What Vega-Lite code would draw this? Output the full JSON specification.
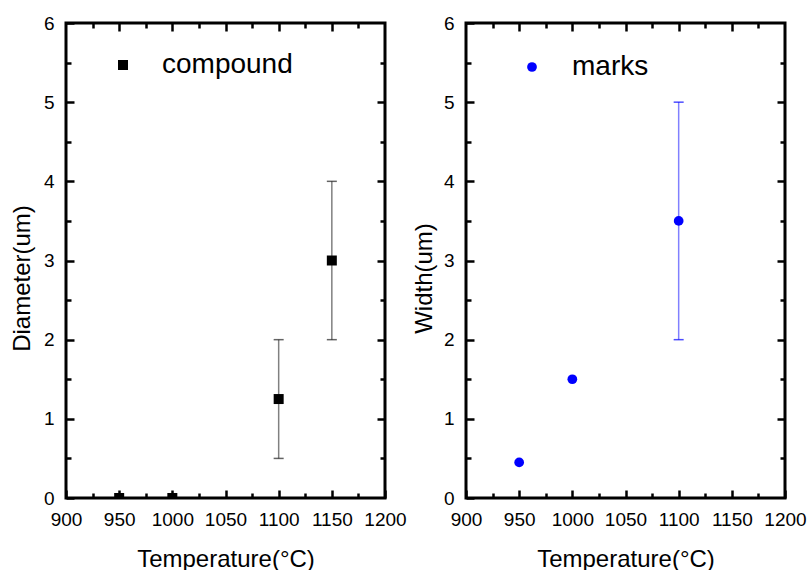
{
  "$schema": "https://vega.github.io/schema/vega-lite/v6.json",
  "padding": {"left": 8, "top": 12, "right": 0, "bottom": 0},
  "background": "white",
  "bounds": "flush",
  "spacing": 81,
  "config": {
    "font": "Liberation Sans",
    "view": {"stroke": "black", "strokeWidth": 3},
    "axis": {
      "domain": false,
      "grid": false,
      "tickColor": "black",
      "tickWidth": 2.5,
      "labelColor": "black",
      "labelFont": "Liberation Sans",
      "labelFontSize": 19,
      "labelFontWeight": "normal",
      "titleColor": "black",
      "titleFont": "Liberation Sans",
      "titleFontSize": 24,
      "titleFontWeight": "normal",
      "labelFlush": false,
      "labelOverlap": false,
      "format": "d"
    },
    "legend": {
      "labelFont": "Liberation Sans",
      "labelFontSize": 28,
      "labelColor": "black",
      "padding": 0
    }
  },
  "datasets": {
    "compound": [
      {"temp": 950, "value": 0, "series": "compound"},
      {"temp": 1000, "value": 0, "series": "compound"},
      {"temp": 1100, "value": 1.25, "lo": 0.5, "hi": 2, "series": "compound"},
      {"temp": 1150, "value": 3, "lo": 2, "hi": 4, "series": "compound"}
    ],
    "marks": [
      {"temp": 950, "value": 0.45, "series": "marks"},
      {"temp": 1000, "value": 1.5, "series": "marks"},
      {"temp": 1100, "value": 3.5, "lo": 2, "hi": 5, "series": "marks"}
    ]
  },
  "resolve": {
    "scale": {"x": "independent", "y": "independent", "shape": "independent"},
    "legend": {"shape": "independent"}
  },
  "hconcat": [
    {
      "width": 319,
      "height": 475,
      "data": {"name": "compound"},
      "resolve": {"axis": {"x": "independent", "y": "independent"}},
      "layer": [
        {
          "transform": [{"filter": "isValid(datum.lo)"}],
          "mark": {"type": "rule", "color": "#808080", "strokeWidth": 1.5},
          "encoding": {
            "x": {
              "field": "temp", "type": "quantitative",
              "scale": {"domain": [900, 1200], "nice": false, "zero": false},
              "axis": {"orient": "top", "title": null, "labels": false, "tickSize": -8,
                       "values": [950, 1000, 1050, 1100, 1150]}
            },
            "y": {
              "field": "lo", "type": "quantitative",
              "scale": {"domain": [0, 6], "nice": false},
              "axis": {"orient": "right", "title": null, "labels": false, "tickSize": -8,
                       "values": [1, 2, 3, 4, 5]}
            },
            "y2": {"field": "hi"}
          }
        },
        {
          "transform": [{"filter": "isValid(datum.lo)"}],
          "mark": {"type": "tick", "orient": "horizontal", "color": "#222222", "size": 10, "thickness": 1.5},
          "encoding": {
            "x": {"field": "temp", "type": "quantitative",
                  "axis": {"orient": "top", "title": null, "labels": false, "tickSize": -5,
                           "values": [925, 975, 1025, 1075, 1125, 1175]}},
            "y": {"field": "lo", "type": "quantitative",
                  "axis": {"orient": "right", "title": null, "labels": false, "tickSize": -5,
                           "values": [0.5, 1.5, 2.5, 3.5, 4.5, 5.5]}}
          }
        },
        {
          "transform": [{"filter": "isValid(datum.hi)"}],
          "mark": {"type": "tick", "orient": "horizontal", "color": "#222222", "size": 10, "thickness": 1.5},
          "encoding": {
            "x": {"field": "temp", "type": "quantitative",
                  "axis": {"orient": "bottom", "title": null, "labels": false, "tickSize": -5,
                           "values": [925, 975, 1025, 1075, 1125, 1175]}},
            "y": {"field": "hi", "type": "quantitative",
                  "axis": {"orient": "left", "title": null, "labels": false, "tickSize": -5,
                           "values": [0.5, 1.5, 2.5, 3.5, 4.5, 5.5]}}
          }
        },
        {
          "mark": {"type": "point", "filled": true, "opacity": 1, "size": 100, "color": "black", "clip": true},
          "encoding": {
            "x": {
              "field": "temp", "type": "quantitative",
              "axis": {
                "orient": "bottom", "title": "Temperature(°C)",
                "values": [900, 950, 1000, 1050, 1100, 1150, 1200],
                "tickSize": -8,
                "labelBaseline": "alphabetic",
                "labelPadding": 35,
                "titleX": 159.5, "titleY": 68, "titleBaseline": "alphabetic", "titleAlign": "center"
              }
            },
            "y": {
              "field": "value", "type": "quantitative",
              "axis": {
                "orient": "left", "title": "Diameter(um)",
                "values": [0, 1, 2, 3, 4, 5, 6],
                "tickSize": -8,
                "labelPadding": 20,
                "titleX": -44, "titleY": 255, "titleAngle": -90, "titleBaseline": "middle", "titleAlign": "center"
              }
            },
            "shape": {
              "field": "series", "type": "nominal",
              "scale": {"range": ["square"]},
              "legend": {
                "title": null, "orient": "none", "legendX": 43, "legendY": 28,
                "symbolSize": 100, "symbolFillColor": "black", "symbolStrokeColor": "black",
                "symbolStrokeWidth": 0, "labelOffset": 25
              }
            }
          }
        }
      ]
    },
    {
      "width": 319,
      "height": 475,
      "data": {"name": "marks"},
      "resolve": {"axis": {"x": "independent", "y": "independent"}},
      "layer": [
        {
          "transform": [{"filter": "isValid(datum.lo)"}],
          "mark": {"type": "rule", "color": "#8080ff", "strokeWidth": 1.5},
          "encoding": {
            "x": {
              "field": "temp", "type": "quantitative",
              "scale": {"domain": [900, 1200], "nice": false, "zero": false},
              "axis": {"orient": "top", "title": null, "labels": false, "tickSize": -8,
                       "values": [950, 1000, 1050, 1100, 1150]}
            },
            "y": {
              "field": "lo", "type": "quantitative",
              "scale": {"domain": [0, 6], "nice": false},
              "axis": {"orient": "right", "title": null, "labels": false, "tickSize": -8,
                       "values": [1, 2, 3, 4, 5]}
            },
            "y2": {"field": "hi"}
          }
        },
        {
          "transform": [{"filter": "isValid(datum.lo)"}],
          "mark": {"type": "tick", "orient": "horizontal", "color": "#0000ff", "size": 10, "thickness": 1.5},
          "encoding": {
            "x": {"field": "temp", "type": "quantitative",
                  "axis": {"orient": "top", "title": null, "labels": false, "tickSize": -5,
                           "values": [925, 975, 1025, 1075, 1125, 1175]}},
            "y": {"field": "lo", "type": "quantitative",
                  "axis": {"orient": "right", "title": null, "labels": false, "tickSize": -5,
                           "values": [0.5, 1.5, 2.5, 3.5, 4.5, 5.5]}}
          }
        },
        {
          "transform": [{"filter": "isValid(datum.hi)"}],
          "mark": {"type": "tick", "orient": "horizontal", "color": "#0000ff", "size": 10, "thickness": 1.5},
          "encoding": {
            "x": {"field": "temp", "type": "quantitative",
                  "axis": {"orient": "bottom", "title": null, "labels": false, "tickSize": -5,
                           "values": [925, 975, 1025, 1075, 1125, 1175]}},
            "y": {"field": "hi", "type": "quantitative",
                  "axis": {"orient": "left", "title": null, "labels": false, "tickSize": -5,
                           "values": [0.5, 1.5, 2.5, 3.5, 4.5, 5.5]}}
          }
        },
        {
          "mark": {"type": "point", "filled": true, "opacity": 1, "size": 95, "color": "#0000ff", "clip": true},
          "encoding": {
            "x": {
              "field": "temp", "type": "quantitative",
              "axis": {
                "orient": "bottom", "title": "Temperature(°C)",
                "values": [900, 950, 1000, 1050, 1100, 1150, 1200],
                "tickSize": -8,
                "labelBaseline": "alphabetic",
                "labelPadding": 35,
                "titleX": 159.5, "titleY": 68, "titleBaseline": "alphabetic", "titleAlign": "center"
              }
            },
            "y": {
              "field": "value", "type": "quantitative",
              "axis": {
                "orient": "left", "title": "Width(um)",
                "values": [0, 1, 2, 3, 4, 5, 6],
                "tickSize": -8,
                "labelPadding": 20,
                "titleX": -42, "titleY": 255, "titleAngle": -90, "titleBaseline": "middle", "titleAlign": "center"
              }
            },
            "shape": {
              "field": "series", "type": "nominal",
              "scale": {"range": ["circle"]},
              "legend": {
                "title": null, "orient": "none", "legendX": 52, "legendY": 30,
                "symbolSize": 95, "symbolFillColor": "#0000ff", "symbolStrokeColor": "#0000ff",
                "symbolStrokeWidth": 0, "labelOffset": 26
              }
            }
          }
        }
      ]
    }
  ]
}
